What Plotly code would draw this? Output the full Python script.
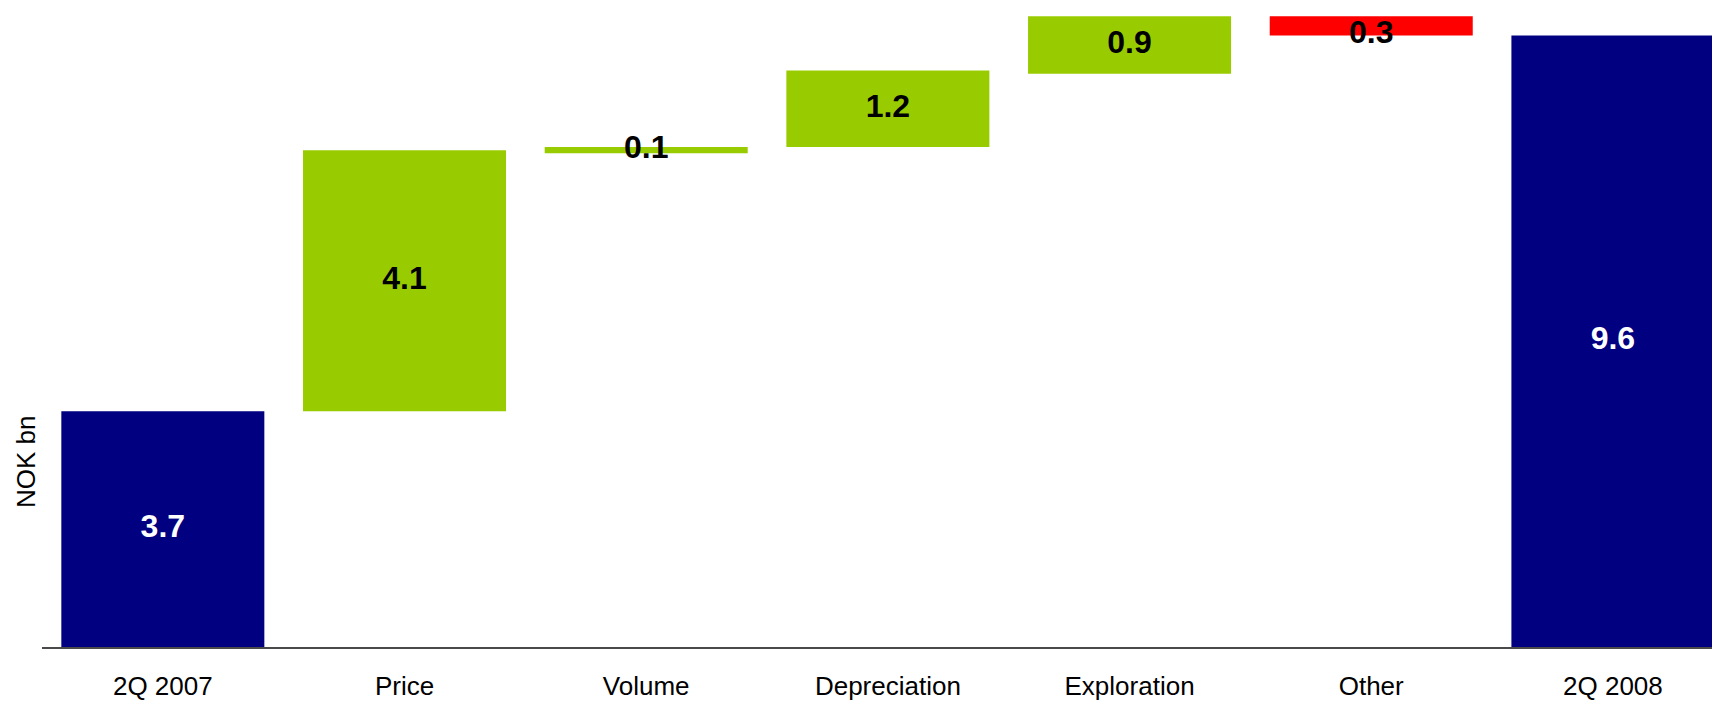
import plotly.graph_objects as go

# Operating result bridge, 2Q 2007 -> 2Q 2008 (NOK bn)
categories = ["2Q 2007", "Price", "Volume", "Depreciation", "Exploration", "Other", "2Q 2008"]
changes = [3.7, 4.1, 0.1, 1.2, 0.9, -0.3, 9.6]
starts = [0.0, 3.7, 7.75, 7.85, 9.0, 9.9, 0.0]
kinds = ["total", "up", "up", "up", "up", "down", "total"]

NAVY = "#000080"
GREEN = "#99CC00"
RED = "#FF0000"
fill = {"total": NAVY, "up": GREEN, "down": RED}
ink = {"total": "white", "up": "black", "down": "black"}

bar_colors = [fill[k] for k in kinds]
label_colors = [ink[k] for k in kinds]

# value labels sit mid-bar; a decrease is labelled at its end level
label_y = [s + c / 2 if c > 0 else s + c for s, c in zip(starts, changes)]
labels = [f"<b>{abs(c):.1f}</b>" for c in changes]

FONT = "Liberation Sans, Arial, sans-serif"

fig = go.Figure()
fig.add_trace(go.Bar(
    x=categories,
    y=[abs(c) for c in changes],
    base=[s + min(c, 0) for s, c in zip(starts, changes)],
    marker=dict(color=bar_colors, line=dict(width=0)),
    width=0.84,
    hoverinfo="skip",
))
fig.add_trace(go.Scatter(
    x=categories,
    y=label_y,
    mode="text",
    text=labels,
    textposition="middle center",
    textfont=dict(family=FONT, size=32, color=label_colors),
    hoverinfo="skip",
))

fig.add_annotation(
    text="NOK bn",
    xref="paper", yref="paper",
    x=0, y=(647 - 462) / 647,
    xanchor="center", yanchor="middle",
    xshift=-16,
    textangle=-90,
    showarrow=False,
    font=dict(family=FONT, size=26, color="black"),
)

fig.update_layout(
    width=1712, height=701,
    margin=dict(l=42, r=0, t=0, b=54),
    paper_bgcolor="white",
    plot_bgcolor="white",
    showlegend=False,
    hovermode=False,
    xaxis=dict(
        type="category",
        range=[-0.5, 6.41],
        automargin=False,
        showline=True, linecolor="#4a4a4a", linewidth=2,
        showgrid=False, zeroline=False,
        ticks="", ticklabelstandoff=15,
        tickfont=dict(family=FONT, size=26, color="black"),
    ),
    yaxis=dict(
        range=[0, 647 / 63.7],
        visible=False,
        automargin=False,
        showgrid=False, zeroline=False,
    ),
)

fig.write_html("out.html")
